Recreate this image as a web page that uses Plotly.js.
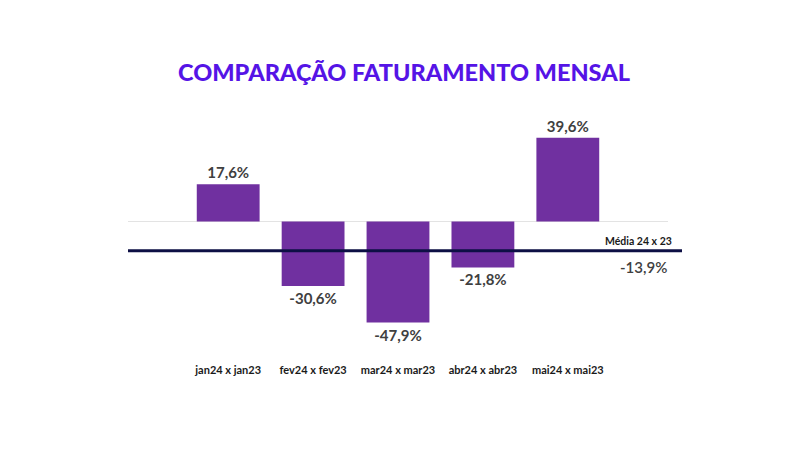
<!DOCTYPE html>
<html>
<head>
<meta charset="utf-8">
<script src="https://cdn.plot.ly/plotly-3.0.1.min.js"></script>
<style>html,body{margin:0;padding:0;background:#fff;}#chart{width:800px;height:450px;}</style>
</head>
<body>
<div id="chart"></div>
<script>
const categories = ["jan24 x jan23", "fev24 x fev23", "mar24 x mar23", "abr24 x abr23", "mai24 x mai23"];
const values = [17.6, -30.6, -47.9, -21.8, 39.6];
const mediaLabel = "Média 24 x 23";
const mediaValue = -13.9;
const chartTitle = "COMPARAÇÃO FATURAMENTO MENSAL";

const fmt = v => v.toFixed(1).replace('.', ',') + '%';

const trace = {
  type: 'bar',
  x: categories,
  y: values,
  width: 0.74,
  marker: {color: '#7030a0'},
  text: values.map(fmt),
  textposition: 'outside',
  textfont: {family: 'Lato, sans-serif', size: 15, color: '#404040', weight: 700},
  cliponaxis: false,
  hoverinfo: 'none'
};

const layout = {
  width: 800, height: 450,
  margin: {l: 128, r: 132, t: 110, b: 88},
  paper_bgcolor: '#ffffff', plot_bgcolor: '#ffffff',
  showlegend: false,
  title: {
    text: chartTitle,
    x: 0.505, xref: 'container', xanchor: 'center',
    y: 1 - 73/450, yref: 'container', yanchor: 'middle',
    font: {family: 'Lato, sans-serif', size: 23.5, color: '#5514e6', weight: 900}
  },
  xaxis: {
    range: [-1.18, 5.18],
    showgrid: false, zeroline: false, showline: false,
    ticks: '', tickfont: {family: 'Lato, sans-serif', size: 11, color: '#1a1a1a', weight: 700},
    fixedrange: true
  },
  yaxis: {
    range: [-66.6, 52.8],
    showgrid: false, showticklabels: false, ticks: '',
    zeroline: true, zerolinecolor: '#e3e3e3', zerolinewidth: 1.5,
    fixedrange: true
  },
  shapes: [{
    type: 'line', xref: 'paper', yref: 'y',
    x0: 0, x1: (682-128)/540, y0: mediaValue, y1: mediaValue,
    line: {color: '#0d0f45', width: 3}
  }],
  annotations: [
    {xref: 'paper', yref: 'y', x: (638-128)/540, xanchor: 'center', y: mediaValue, yanchor: 'bottom', yshift: 2,
     text: mediaLabel, showarrow: false,
     font: {family: 'Lato, sans-serif', size: 10.5, color: '#1a1a1a', weight: 700}},
    {xref: 'paper', yref: 'y', x: (643-128)/540, xanchor: 'center', y: mediaValue, yanchor: 'top', yshift: -5,
     text: fmt(mediaValue), showarrow: false,
     font: {family: 'Lato, sans-serif', size: 15, color: '#404040', weight: 600}}
  ]
};

Plotly.newPlot('chart', [trace], layout, {displayModeBar: false, staticPlot: true});
</script>
</body>
</html>
